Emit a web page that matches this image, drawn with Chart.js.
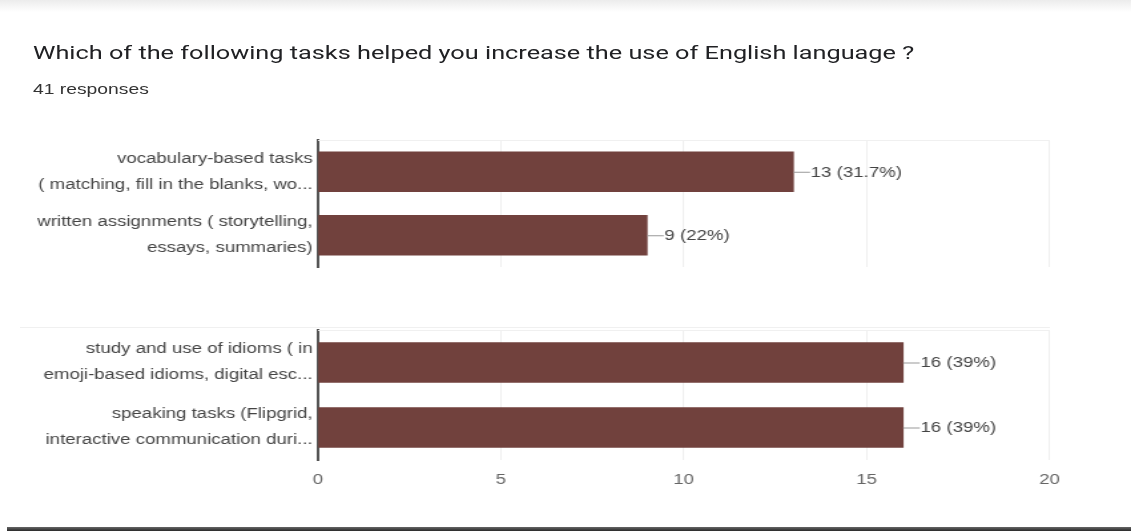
<!DOCTYPE html>
<html>
<head>
<meta charset="utf-8">
<script src="https://cdn.jsdelivr.net/npm/chart.js@4/dist/chart.umd.min.js"></script>
<style>
  html, body { margin: 0; padding: 0; background: #ffffff; }
  body { width: 1131px; height: 531px; position: relative; overflow: hidden; }
  #shadow { position: absolute; left: 0; top: 0; width: 1131px; height: 12px; background: linear-gradient(#ececec, #ffffff); }
  #bottomstrip { position: absolute; left: 7px; top: 527px; width: 1124px; height: 4px; background: linear-gradient(#666, #2a2a2a); }
  #stage { position: absolute; left: 0; top: 0; width: 850px; height: 531px; transform: scaleX(1.33059); transform-origin: 0 0; }
  #title { position: absolute; left: 24.8px; top: 41px; font-family: Roboto, "Liberation Sans", Arial, sans-serif; font-size: 19px; color: #202124; white-space: nowrap; }
  #sub { position: absolute; left: 24.8px; top: 81px; font-family: "Liberation Sans", Arial, sans-serif; font-size: 14.5px; color: #333; white-space: nowrap; }
  #sep { position: absolute; left: 15px; top: 327px; width: 774px; height: 1px; background: #f0f0f0; }
  .wrap { position: absolute; left: 0; width: 850px; }
  #w1 { top: 130px; height: 140px; }
  #w2 { top: 320px; height: 180px; }
</style>
</head>
<body>
<div id="shadow"></div>
<div id="stage">
  <div id="title">Which of the following tasks helped you increase the use of English language ?</div>
  <div id="sub">41 responses</div>
  <div id="sep"></div>
  <div class="wrap" id="w1"><canvas id="c1"></canvas></div>
  <div class="wrap" id="w2"><canvas id="c2"></canvas></div>
</div>
<div id="bottomstrip"></div>
<script>
const topCategories = [
  ["vocabulary-based tasks", "( matching, fill in the blanks, wo..."],
  ["written assignments ( storytelling,", "essays, summaries)"]
];
const topValues = [13, 9];
const topLabels = ["13 (31.7%)", "9 (22%)"];

const bottomCategories = [
  ["study and use of idioms ( in", "emoji-based idioms, digital esc..."],
  ["speaking tasks (Flipgrid,", "interactive communication duri..."]
];
const bottomValues = [16, 16];
const bottomLabels = ["16 (39%)", "16 (39%)"];

const xTicks = [0, 5, 10, 15, 20];

const BAR = "#71413d";
const FONT = "'Liberation Sans', Arial, sans-serif";

const valueLabelPlugin = {
  id: "valueLabels",
  afterDatasetsDraw(chart, args, opts) {
    const ctx = chart.ctx;
    const meta = chart.getDatasetMeta(0);
    const labels = opts.labels || [];
    ctx.save();
    meta.data.forEach((bar, i) => {
      const x = bar.x, y = bar.y;
      ctx.strokeStyle = "#999";
      ctx.lineWidth = 1;
      ctx.beginPath();
      ctx.moveTo(x, y + 0.5);
      ctx.lineTo(x + 12.5, y + 0.5);
      ctx.stroke();
      ctx.fillStyle = "#444";
      ctx.font = "14px " + FONT;
      ctx.textAlign = "left";
      ctx.textBaseline = "middle";
      ctx.fillText(labels[i], x + 13, y + 1);
    });
    ctx.restore();
  }
};

const frameTopPlugin = {
  id: "frameTop",
  beforeDatasetsDraw(chart) {
    const a = chart.chartArea, ctx = chart.ctx;
    ctx.save();
    ctx.strokeStyle = "#f0f0f0";
    ctx.lineWidth = 1;
    ctx.beginPath();
    ctx.moveTo(a.left, a.top + 0.5);
    ctx.lineTo(a.right, a.top + 0.5);
    ctx.stroke();
    ctx.restore();
  }
};

function makeChart(id, cats, vals, labs, showTicks, padTop, padBottom) {
  return new Chart(document.getElementById(id), {
    type: "bar",
    data: {
      labels: cats,
      datasets: [{
        data: vals,
        backgroundColor: BAR,
        borderWidth: 0,
        barThickness: 40
      }]
    },
    options: {
      indexAxis: "y",
      responsive: true,
      maintainAspectRatio: false,
      animation: false,
      layout: { autoPadding: false, padding: { left: 0, right: 61.3, top: padTop, bottom: padBottom } },
      plugins: {
        legend: { display: false },
        tooltip: { enabled: false },
        valueLabels: { labels: labs }
      },
      scales: {
        x: {
          min: 0, max: 20,
          afterBuildTicks: (s) => { s.ticks = xTicks.map(v => ({ value: v })); },
          grid: { color: "#efefef", drawTicks: false },
          border: { display: false },
          ticks: {
            display: showTicks,
            padding: 12,
            color: "#666",
            font: { family: FONT, size: 14 }
          },
          afterFit: (s) => { s.height = showTicks ? 30 : 0; s.paddingLeft = 0; s.paddingRight = 0; }
        },
        y: {
          grid: { display: false, drawTicks: false },
          border: { display: true, color: "#555", width: 2 },
          ticks: {
            padding: 4,
            color: "#444",
            font: { family: FONT, size: 14, lineHeight: 1.85 }
          },
          afterFit: (s) => { s.width = 239; s.paddingTop = 0; s.paddingBottom = 0; }
        }
      }
    },
    plugins: [valueLabelPlugin, frameTopPlugin]
  });
}

makeChart("c1", topCategories, topValues, topLabels, false, 10, 3);
makeChart("c2", bottomCategories, bottomValues, bottomLabels, true, 10, 10);
</script>
</body>
</html>
